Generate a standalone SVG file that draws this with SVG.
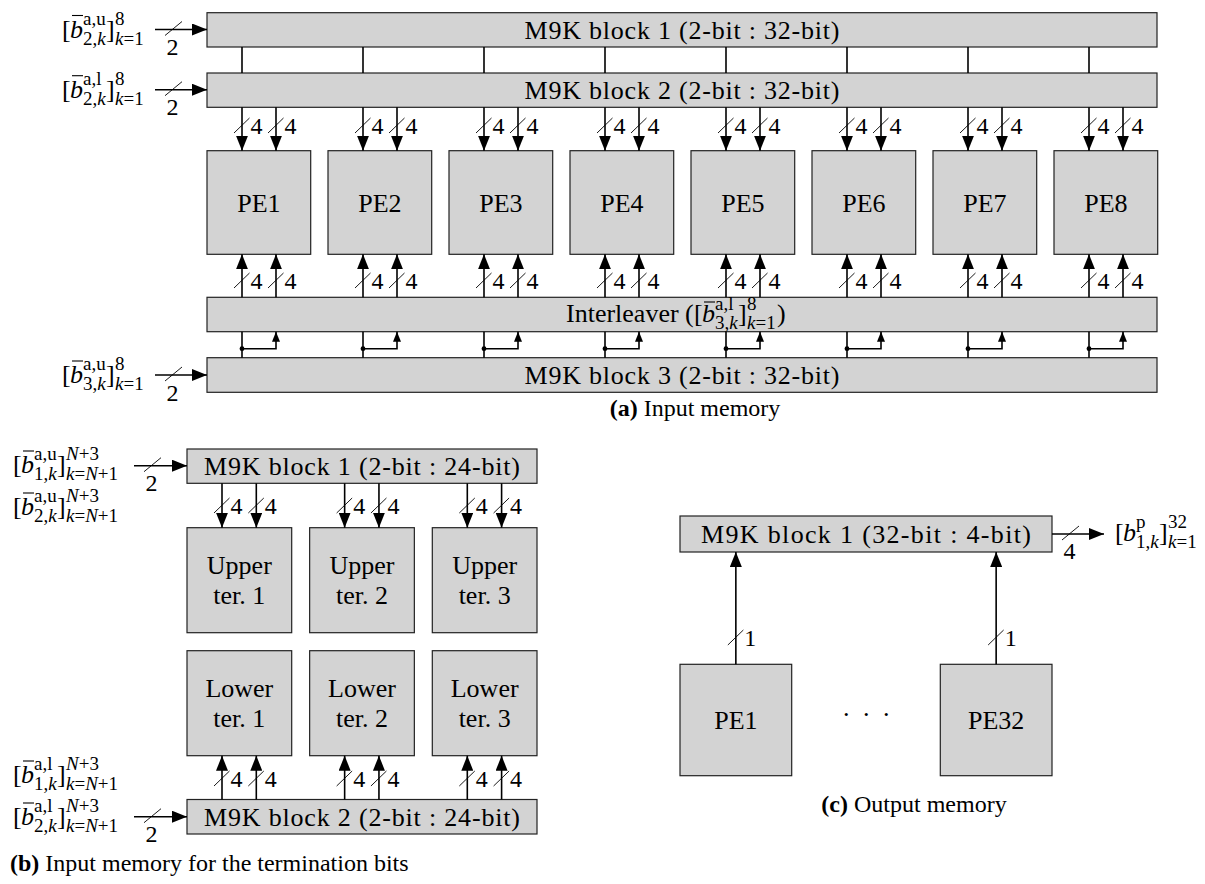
<svg xmlns="http://www.w3.org/2000/svg" width="1205" height="884" viewBox="0 0 1205 884">
<style>
.box{fill:#d3d3d3;stroke:#222;stroke-width:1.2}
.t{font-family:"Liberation Serif","DejaVu Serif",serif;font-size:26px;fill:#000}
.c{text-anchor:middle}
.n{font-family:"Liberation Serif","DejaVu Serif",serif;font-size:24px;fill:#000}
.cap{font-family:"Liberation Serif","DejaVu Serif",serif;font-size:24px;fill:#000}
.s{font-size:19px}
.i{font-style:italic}
.w{stroke:#000;stroke-width:1.6;fill:none}
.a{marker-end:url(#ah)}
.as{marker-end:url(#ahs)}
.sl{stroke:#000;stroke-width:0.9}
.bar{stroke:#000;stroke-width:1.1}
</style>
<defs>
<marker id="ah" markerUnits="userSpaceOnUse" markerWidth="15" markerHeight="12" refX="15" refY="6" orient="auto"><path d="M0,0 L15,6 L0,12 z" fill="#000"/></marker>
<marker id="ahs" markerUnits="userSpaceOnUse" markerWidth="10" markerHeight="8" refX="10" refY="4" orient="auto"><path d="M0,0 L10,4 L0,8 z" fill="#000"/></marker>
</defs>

<!-- (a) Input memory -->
<g id="m9k-a1"><rect class="box" x="207" y="12.7" width="950" height="34.3"/><text class="t c" x="682" y="39" textLength="315" lengthAdjust="spacing">M9K block 1 (2-bit : 32-bit)</text></g>
<g id="m9k-a2"><rect class="box" x="207" y="73" width="950" height="34.3"/><text class="t c" x="682" y="99.3" textLength="315" lengthAdjust="spacing">M9K block 2 (2-bit : 32-bit)</text></g>
<g id="pe1"><rect class="box" x="207" y="150.7" width="103.7" height="103.6"/><text class="t c" x="258.85" y="211.5">PE1</text></g>
<g id="pe2"><rect class="box" x="328" y="150.7" width="103.7" height="103.6"/><text class="t c" x="379.85" y="211.5">PE2</text></g>
<g id="pe3"><rect class="box" x="449" y="150.7" width="103.7" height="103.6"/><text class="t c" x="500.85" y="211.5">PE3</text></g>
<g id="pe4"><rect class="box" x="570" y="150.7" width="103.7" height="103.6"/><text class="t c" x="621.85" y="211.5">PE4</text></g>
<g id="pe5"><rect class="box" x="691" y="150.7" width="103.7" height="103.6"/><text class="t c" x="742.85" y="211.5">PE5</text></g>
<g id="pe6"><rect class="box" x="812" y="150.7" width="103.7" height="103.6"/><text class="t c" x="863.85" y="211.5">PE6</text></g>
<g id="pe7"><rect class="box" x="933" y="150.7" width="103.7" height="103.6"/><text class="t c" x="984.85" y="211.5">PE7</text></g>
<g id="pe8"><rect class="box" x="1054" y="150.7" width="103.7" height="103.6"/><text class="t c" x="1105.85" y="211.5">PE8</text></g>
<g id="interleaver"><rect class="box" x="207" y="297.3" width="950" height="34.4"/>
<text class="t"><tspan x="566" y="322">Interleaver (</tspan><tspan x="694" y="322">[</tspan><tspan class="i" x="702" y="322">b</tspan><tspan class="s" x="715" y="310">a,l</tspan><tspan class="s" x="715" y="329">3,<tspan class="i">k</tspan></tspan><tspan x="738" y="322">]</tspan><tspan class="s" x="747" y="310">8</tspan><tspan class="s" x="747" y="329"><tspan class="i">k</tspan>=1</tspan><tspan x="777" y="322">)</tspan></text>
<line class="bar" x1="704" y1="302" x2="715" y2="302"/></g>
<g id="m9k-a3"><rect class="box" x="207" y="357.7" width="950" height="34.6"/><text class="t c" x="682" y="384" textLength="315" lengthAdjust="spacing">M9K block 3 (2-bit : 32-bit)</text></g>

<g id="in-a1"><text class="t"><tspan x="62" y="37.5">[</tspan><tspan class="i" x="70" y="37.5">b</tspan><tspan class="s" x="83" y="24.5">a,u</tspan><tspan class="s" x="83" y="44.5">2,<tspan class="i">k</tspan></tspan><tspan x="106" y="37.5">]</tspan><tspan class="s" x="115" y="24.5">8</tspan><tspan class="s" x="115" y="44.5"><tspan class="i">k</tspan>=1</tspan></text><line class="bar" x1="72" y1="15.5" x2="83" y2="15.5"/></g>
<g id="in-a2"><text class="t"><tspan x="62" y="97.7">[</tspan><tspan class="i" x="70" y="97.7">b</tspan><tspan class="s" x="83" y="84.7">a,l</tspan><tspan class="s" x="83" y="104.7">2,<tspan class="i">k</tspan></tspan><tspan x="106" y="97.7">]</tspan><tspan class="s" x="115" y="84.7">8</tspan><tspan class="s" x="115" y="104.7"><tspan class="i">k</tspan>=1</tspan></text><line class="bar" x1="72" y1="75.7" x2="83" y2="75.7"/></g>
<g id="in-a3"><text class="t"><tspan x="62" y="383">[</tspan><tspan class="i" x="70" y="383">b</tspan><tspan class="s" x="83" y="370">a,u</tspan><tspan class="s" x="83" y="390">3,<tspan class="i">k</tspan></tspan><tspan x="106" y="383">]</tspan><tspan class="s" x="115" y="370">8</tspan><tspan class="s" x="115" y="390"><tspan class="i">k</tspan>=1</tspan></text><line class="bar" x1="72" y1="361" x2="83" y2="361"/></g>

<text id="cap-a" class="cap c" x="695" y="416"><tspan font-weight="bold">(a)</tspan> Input memory</text>

<!-- (b) termination bits -->
<g id="m9k-b1"><rect class="box" x="187" y="449" width="350" height="34.3"/><text class="t c" x="362" y="475" textLength="316" lengthAdjust="spacing">M9K block 1 (2-bit : 24-bit)</text></g>
<g id="up1"><rect class="box" x="187" y="527.7" width="104.7" height="105"/><text class="t c" x="239.35" y="573.7">Upper</text><text class="t c" x="239.35" y="603.7">ter. 1</text></g>
<g id="up2"><rect class="box" x="309.65" y="527.7" width="104.7" height="105"/><text class="t c" x="362" y="573.7">Upper</text><text class="t c" x="362" y="603.7">ter. 2</text></g>
<g id="up3"><rect class="box" x="432.3" y="527.7" width="104.7" height="105"/><text class="t c" x="484.65" y="573.7">Upper</text><text class="t c" x="484.65" y="603.7">ter. 3</text></g>
<g id="lo1"><rect class="box" x="187" y="650.7" width="104.7" height="105"/><text class="t c" x="239.35" y="696.7">Lower</text><text class="t c" x="239.35" y="726.7">ter. 1</text></g>
<g id="lo2"><rect class="box" x="309.65" y="650.7" width="104.7" height="105"/><text class="t c" x="362" y="696.7">Lower</text><text class="t c" x="362" y="726.7">ter. 2</text></g>
<g id="lo3"><rect class="box" x="432.3" y="650.7" width="104.7" height="105"/><text class="t c" x="484.65" y="696.7">Lower</text><text class="t c" x="484.65" y="726.7">ter. 3</text></g>
<g id="m9k-b2"><rect class="box" x="187" y="799.5" width="350" height="34.5"/><text class="t c" x="362" y="826" textLength="316" lengthAdjust="spacing">M9K block 2 (2-bit : 24-bit)</text></g>

<g id="in-b1"><text class="t"><tspan x="13" y="473">[</tspan><tspan class="i" x="21" y="473">b</tspan><tspan class="s" x="34" y="460">a,u</tspan><tspan class="s" x="34" y="480">1,<tspan class="i">k</tspan></tspan><tspan x="57" y="473">]</tspan><tspan class="s" x="66" y="460"><tspan class="i">N</tspan>+3</tspan><tspan class="s" x="66" y="480"><tspan class="i">k</tspan>=<tspan class="i">N</tspan>+1</tspan></text><line class="bar" x1="23" y1="451" x2="34" y2="451"/></g>
<g id="in-b2"><text class="t"><tspan x="13" y="515">[</tspan><tspan class="i" x="21" y="515">b</tspan><tspan class="s" x="34" y="502">a,u</tspan><tspan class="s" x="34" y="522">2,<tspan class="i">k</tspan></tspan><tspan x="57" y="515">]</tspan><tspan class="s" x="66" y="502"><tspan class="i">N</tspan>+3</tspan><tspan class="s" x="66" y="522"><tspan class="i">k</tspan>=<tspan class="i">N</tspan>+1</tspan></text><line class="bar" x1="23" y1="493" x2="34" y2="493"/></g>
<g id="in-b3"><text class="t"><tspan x="13" y="783">[</tspan><tspan class="i" x="21" y="783">b</tspan><tspan class="s" x="34" y="770">a,l</tspan><tspan class="s" x="34" y="790">1,<tspan class="i">k</tspan></tspan><tspan x="57" y="783">]</tspan><tspan class="s" x="66" y="770"><tspan class="i">N</tspan>+3</tspan><tspan class="s" x="66" y="790"><tspan class="i">k</tspan>=<tspan class="i">N</tspan>+1</tspan></text><line class="bar" x1="23" y1="761" x2="34" y2="761"/></g>
<g id="in-b4"><text class="t"><tspan x="13" y="825">[</tspan><tspan class="i" x="21" y="825">b</tspan><tspan class="s" x="34" y="812">a,l</tspan><tspan class="s" x="34" y="832">2,<tspan class="i">k</tspan></tspan><tspan x="57" y="825">]</tspan><tspan class="s" x="66" y="812"><tspan class="i">N</tspan>+3</tspan><tspan class="s" x="66" y="832"><tspan class="i">k</tspan>=<tspan class="i">N</tspan>+1</tspan></text><line class="bar" x1="23" y1="803" x2="34" y2="803"/></g>

<text id="cap-b" class="cap" x="10" y="871"><tspan font-weight="bold">(b)</tspan> Input memory for the termination bits</text>

<!-- (c) Output memory -->
<g id="m9k-c"><rect class="box" x="680" y="516" width="372" height="36"/><text class="t c" x="866" y="543" textLength="330" lengthAdjust="spacing">M9K block 1 (32-bit : 4-bit)</text></g>
<g id="pe-c1"><rect class="box" x="680" y="664.3" width="111.7" height="111.4"/><text class="t c" x="735.85" y="729">PE1</text></g>
<g id="pe-c32"><rect class="box" x="940.3" y="664.3" width="111.7" height="111.4"/><text class="t c" x="996.15" y="729">PE32</text></g>
<text id="dots" class="t" x="843 863 883" y="716">...</text>
<g id="out-c"><text class="t"><tspan x="1115" y="541">[</tspan><tspan class="i" x="1123" y="541">b</tspan><tspan class="s" x="1136" y="528">p</tspan><tspan class="s" x="1136" y="548">1,<tspan class="i">k</tspan></tspan><tspan x="1159" y="541">]</tspan><tspan class="s" x="1168" y="528">32</tspan><tspan class="s" x="1168" y="548"><tspan class="i">k</tspan>=1</tspan></text></g>
<text id="cap-c" class="cap c" x="914" y="812"><tspan font-weight="bold">(c)</tspan> Output memory</text>

<g id="connectors">
<!-- (a) inputs -->
<line class="w a" x1="155" y1="29.5" x2="207" y2="29.5"/><line class="sl" x1="165" y1="35.5" x2="182" y2="21.5"/><text class="n" x="166.5" y="55">2</text>
<line class="w a" x1="155" y1="89.7" x2="207" y2="89.7"/><line class="sl" x1="165" y1="95.7" x2="182" y2="81.7"/><text class="n" x="166.5" y="115.2">2</text>
<line class="w a" x1="155" y1="375" x2="207" y2="375"/><line class="sl" x1="165" y1="381" x2="182" y2="367"/><text class="n" x="166.5" y="400.5">2</text>
<!-- block1-block2 links -->
<g class="w">
<line x1="242" y1="47" x2="242" y2="73"/><line x1="363" y1="47" x2="363" y2="73"/><line x1="484" y1="47" x2="484" y2="73"/><line x1="605" y1="47" x2="605" y2="73"/><line x1="726" y1="47" x2="726" y2="73"/><line x1="847" y1="47" x2="847" y2="73"/><line x1="968" y1="47" x2="968" y2="73"/><line x1="1089" y1="47" x2="1089" y2="73"/>
</g>
<!-- block2 -> PE -->
<g class="w a">
<line x1="242" y1="107.3" x2="242" y2="150.7"/><line x1="276" y1="107.3" x2="276" y2="150.7"/>
<line x1="363" y1="107.3" x2="363" y2="150.7"/><line x1="397" y1="107.3" x2="397" y2="150.7"/>
<line x1="484" y1="107.3" x2="484" y2="150.7"/><line x1="518" y1="107.3" x2="518" y2="150.7"/>
<line x1="605" y1="107.3" x2="605" y2="150.7"/><line x1="639" y1="107.3" x2="639" y2="150.7"/>
<line x1="726" y1="107.3" x2="726" y2="150.7"/><line x1="760" y1="107.3" x2="760" y2="150.7"/>
<line x1="847" y1="107.3" x2="847" y2="150.7"/><line x1="881" y1="107.3" x2="881" y2="150.7"/>
<line x1="968" y1="107.3" x2="968" y2="150.7"/><line x1="1002" y1="107.3" x2="1002" y2="150.7"/>
<line x1="1089" y1="107.3" x2="1089" y2="150.7"/><line x1="1123" y1="107.3" x2="1123" y2="150.7"/>
</g>
<g class="sl">
<line x1="234" y1="133" x2="249.5" y2="118"/><line x1="268" y1="133" x2="283.5" y2="118"/>
<line x1="355" y1="133" x2="370.5" y2="118"/><line x1="389" y1="133" x2="404.5" y2="118"/>
<line x1="476" y1="133" x2="491.5" y2="118"/><line x1="510" y1="133" x2="525.5" y2="118"/>
<line x1="597" y1="133" x2="612.5" y2="118"/><line x1="631" y1="133" x2="646.5" y2="118"/>
<line x1="718" y1="133" x2="733.5" y2="118"/><line x1="752" y1="133" x2="767.5" y2="118"/>
<line x1="839" y1="133" x2="854.5" y2="118"/><line x1="873" y1="133" x2="888.5" y2="118"/>
<line x1="960" y1="133" x2="975.5" y2="118"/><line x1="994" y1="133" x2="1009.5" y2="118"/>
<line x1="1081" y1="133" x2="1096.5" y2="118"/><line x1="1115" y1="133" x2="1130.5" y2="118"/>
</g>
<text class="n" y="133.5"><tspan x="250.5">4</tspan><tspan x="284.5">4</tspan><tspan x="371.5">4</tspan><tspan x="405.5">4</tspan><tspan x="492.5">4</tspan><tspan x="526.5">4</tspan><tspan x="613.5">4</tspan><tspan x="647.5">4</tspan><tspan x="734.5">4</tspan><tspan x="768.5">4</tspan><tspan x="855.5">4</tspan><tspan x="889.5">4</tspan><tspan x="976.5">4</tspan><tspan x="1010.5">4</tspan><tspan x="1097.5">4</tspan><tspan x="1131.5">4</tspan></text>
<!-- interleaver -> PE -->
<g class="w a">
<line x1="242" y1="297.3" x2="242" y2="254.3"/><line x1="276" y1="297.3" x2="276" y2="254.3"/>
<line x1="363" y1="297.3" x2="363" y2="254.3"/><line x1="397" y1="297.3" x2="397" y2="254.3"/>
<line x1="484" y1="297.3" x2="484" y2="254.3"/><line x1="518" y1="297.3" x2="518" y2="254.3"/>
<line x1="605" y1="297.3" x2="605" y2="254.3"/><line x1="639" y1="297.3" x2="639" y2="254.3"/>
<line x1="726" y1="297.3" x2="726" y2="254.3"/><line x1="760" y1="297.3" x2="760" y2="254.3"/>
<line x1="847" y1="297.3" x2="847" y2="254.3"/><line x1="881" y1="297.3" x2="881" y2="254.3"/>
<line x1="968" y1="297.3" x2="968" y2="254.3"/><line x1="1002" y1="297.3" x2="1002" y2="254.3"/>
<line x1="1089" y1="297.3" x2="1089" y2="254.3"/><line x1="1123" y1="297.3" x2="1123" y2="254.3"/>
</g>
<g class="sl">
<line x1="234" y1="288" x2="249.5" y2="273"/><line x1="268" y1="288" x2="283.5" y2="273"/>
<line x1="355" y1="288" x2="370.5" y2="273"/><line x1="389" y1="288" x2="404.5" y2="273"/>
<line x1="476" y1="288" x2="491.5" y2="273"/><line x1="510" y1="288" x2="525.5" y2="273"/>
<line x1="597" y1="288" x2="612.5" y2="273"/><line x1="631" y1="288" x2="646.5" y2="273"/>
<line x1="718" y1="288" x2="733.5" y2="273"/><line x1="752" y1="288" x2="767.5" y2="273"/>
<line x1="839" y1="288" x2="854.5" y2="273"/><line x1="873" y1="288" x2="888.5" y2="273"/>
<line x1="960" y1="288" x2="975.5" y2="273"/><line x1="994" y1="288" x2="1009.5" y2="273"/>
<line x1="1081" y1="288" x2="1096.5" y2="273"/><line x1="1115" y1="288" x2="1130.5" y2="273"/>
</g>
<text class="n" y="288.5"><tspan x="250.5">4</tspan><tspan x="284.5">4</tspan><tspan x="371.5">4</tspan><tspan x="405.5">4</tspan><tspan x="492.5">4</tspan><tspan x="526.5">4</tspan><tspan x="613.5">4</tspan><tspan x="647.5">4</tspan><tspan x="734.5">4</tspan><tspan x="768.5">4</tspan><tspan x="855.5">4</tspan><tspan x="889.5">4</tspan><tspan x="976.5">4</tspan><tspan x="1010.5">4</tspan><tspan x="1097.5">4</tspan><tspan x="1131.5">4</tspan></text>
<!-- block3 -> interleaver -->
<g class="w">
<line x1="242" y1="357.7" x2="242" y2="331.7"/><line x1="363" y1="357.7" x2="363" y2="331.7"/><line x1="484" y1="357.7" x2="484" y2="331.7"/><line x1="605" y1="357.7" x2="605" y2="331.7"/><line x1="726" y1="357.7" x2="726" y2="331.7"/><line x1="847" y1="357.7" x2="847" y2="331.7"/><line x1="968" y1="357.7" x2="968" y2="331.7"/><line x1="1089" y1="357.7" x2="1089" y2="331.7"/>
</g>
<g class="w as">
<polyline points="242,348.7 276,348.7 276,331.7"/><polyline points="363,348.7 397,348.7 397,331.7"/><polyline points="484,348.7 518,348.7 518,331.7"/><polyline points="605,348.7 639,348.7 639,331.7"/><polyline points="726,348.7 760,348.7 760,331.7"/><polyline points="847,348.7 881,348.7 881,331.7"/><polyline points="968,348.7 1002,348.7 1002,331.7"/><polyline points="1089,348.7 1123,348.7 1123,331.7"/>
</g>
<g fill="#000">
<circle cx="242" cy="348.7" r="2.4"/><circle cx="363" cy="348.7" r="2.4"/><circle cx="484" cy="348.7" r="2.4"/><circle cx="605" cy="348.7" r="2.4"/><circle cx="726" cy="348.7" r="2.4"/><circle cx="847" cy="348.7" r="2.4"/><circle cx="968" cy="348.7" r="2.4"/><circle cx="1089" cy="348.7" r="2.4"/>
</g>

<!-- (b) inputs -->
<line class="w a" x1="134" y1="465.7" x2="187" y2="465.7"/><line class="sl" x1="144" y1="471.7" x2="161" y2="457.7"/><text class="n" x="145.5" y="490.5">2</text>
<line class="w a" x1="134" y1="816.7" x2="187" y2="816.7"/><line class="sl" x1="144" y1="822.7" x2="161" y2="808.7"/><text class="n" x="145.5" y="841.5">2</text>
<!-- block1 -> upper -->
<g class="w a">
<line x1="222" y1="483.3" x2="222" y2="527.7"/><line x1="256.3" y1="483.3" x2="256.3" y2="527.7"/>
<line x1="344.65" y1="483.3" x2="344.65" y2="527.7"/><line x1="378.95" y1="483.3" x2="378.95" y2="527.7"/>
<line x1="467.3" y1="483.3" x2="467.3" y2="527.7"/><line x1="501.6" y1="483.3" x2="501.6" y2="527.7"/>
</g>
<g class="sl">
<line x1="214" y1="513" x2="229.5" y2="498"/><line x1="248.3" y1="513" x2="263.8" y2="498"/>
<line x1="336.65" y1="513" x2="352.15" y2="498"/><line x1="370.95" y1="513" x2="386.45" y2="498"/>
<line x1="459.3" y1="513" x2="474.8" y2="498"/><line x1="493.6" y1="513" x2="509.1" y2="498"/>
</g>
<text class="n" y="513.5"><tspan x="230.5">4</tspan><tspan x="264.8">4</tspan><tspan x="353.15">4</tspan><tspan x="387.45">4</tspan><tspan x="475.8">4</tspan><tspan x="510.1">4</tspan></text>
<!-- block2 -> lower -->
<g class="w a">
<line x1="222" y1="799.5" x2="222" y2="755.7"/><line x1="256.3" y1="799.5" x2="256.3" y2="755.7"/>
<line x1="344.65" y1="799.5" x2="344.65" y2="755.7"/><line x1="378.95" y1="799.5" x2="378.95" y2="755.7"/>
<line x1="467.3" y1="799.5" x2="467.3" y2="755.7"/><line x1="501.6" y1="799.5" x2="501.6" y2="755.7"/>
</g>
<g class="sl">
<line x1="214" y1="786" x2="229.5" y2="771"/><line x1="248.3" y1="786" x2="263.8" y2="771"/>
<line x1="336.65" y1="786" x2="352.15" y2="771"/><line x1="370.95" y1="786" x2="386.45" y2="771"/>
<line x1="459.3" y1="786" x2="474.8" y2="771"/><line x1="493.6" y1="786" x2="509.1" y2="771"/>
</g>
<text class="n" y="786.5"><tspan x="230.5">4</tspan><tspan x="264.8">4</tspan><tspan x="353.15">4</tspan><tspan x="387.45">4</tspan><tspan x="475.8">4</tspan><tspan x="510.1">4</tspan></text>

<!-- (c) -->
<line class="w a" x1="735.85" y1="664.3" x2="735.85" y2="552"/>
<line class="w a" x1="996.15" y1="664.3" x2="996.15" y2="552"/>
<line class="sl" x1="727.85" y1="645" x2="743.35" y2="630"/><line class="sl" x1="988.15" y1="645" x2="1003.65" y2="630"/>
<text class="n" y="645.5"><tspan x="744.35">1</tspan><tspan x="1004.65">1</tspan></text>
<line class="w a" x1="1052" y1="534" x2="1104" y2="534"/><line class="sl" x1="1062" y1="540" x2="1079" y2="526"/><text class="n" x="1063.5" y="559">4</text>
</g>
</svg>
